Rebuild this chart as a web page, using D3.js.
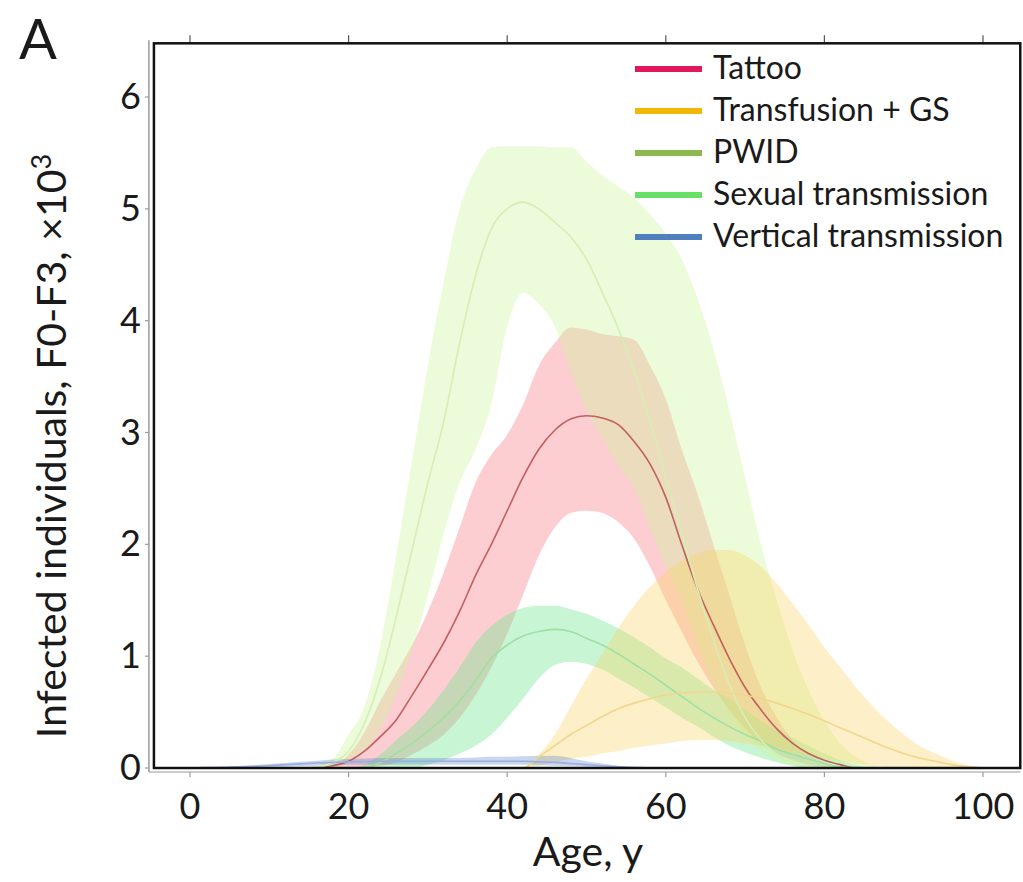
<!DOCTYPE html>
<html>
<head>
<meta charset="utf-8">
<script src="https://cdn.jsdelivr.net/npm/d3@7/dist/d3.min.js"></script>
<style>
  html, body { margin: 0; padding: 0; background: #fff; }
  svg { display: block; font-family: Lato, "Open Sans", sans-serif; }
</style>
</head>
<body>
<svg id="chart" width="1023" height="882"></svg>
<script>
// Age grid (years)
const ages = [0,2,4,6,8,10,12,14,16,18,20,22,24,26,28,30,32,34,36,38,40,42,44,46,48,50,
  52,54,56,58,60,62,64,66,68,70,72,74,76,78,80,82,84,86,88,90,92,94,96,98,100];

// Infected individuals (x10^3): median and uncertainty range per route
const pwidMid = [0,0,0,0,0,0,0,0, 0.01,0.05,0.15,0.4,0.8,1.35,1.95,2.55,3.1,3.8,4.4,4.82,5.0,5.06,5.0,4.88,4.75,4.55,4.25,3.93,3.55,3.1,2.6,2.1,1.6,1.15,0.75,0.45,0.25,0.12,0.05,0.02, 0,0,0,0,0,0,0,0,0,0,0];
const pwidHi  = [0,0,0,0,0,0,0,0, 0.02,0.08,0.3,0.55,1.1,1.9,2.75,3.6,4.35,5.0,5.35,5.55,5.56,5.56,5.56,5.55,5.55,5.42,5.3,5.2,5.1,4.95,4.78,4.55,4.2,3.75,3.2,2.6,2.0,1.5,1.05,0.7,0.42,0.22,0.1,0.03, 0,0,0,0,0,0,0];
const pwidLo  = [0,0,0,0,0,0,0,0,0,0, 0.05,0.15,0.35,0.65,1.05,1.55,2.1,2.55,2.85,3.25,3.95,4.25,4.15,3.95,3.55,3.2,2.95,2.7,2.5,2.15,1.8,1.5,1.1,0.75,0.5,0.3,0.15,0.06,0.02, 0,0,0,0,0,0,0,0,0,0,0,0];

const tattooMid = [0,0,0,0,0,0,0,0,0, 0.02,0.06,0.15,0.28,0.43,0.65,0.88,1.12,1.4,1.72,2.0,2.3,2.6,2.85,3.02,3.12,3.15,3.13,3.07,2.92,2.72,2.42,2.0,1.6,1.28,0.98,0.72,0.52,0.35,0.22,0.13,0.07,0.03, 0,0,0,0,0,0,0,0,0];
const tattooHi  = [0,0,0,0,0,0,0,0,0, 0.02,0.12,0.32,0.6,0.85,1.1,1.4,1.75,2.15,2.55,2.8,2.98,3.25,3.6,3.8,3.94,3.92,3.88,3.86,3.83,3.6,3.3,2.85,2.45,2.0,1.55,1.1,0.72,0.45,0.25,0.12,0.05,0.01, 0,0,0,0,0,0,0,0,0];
const tattooLo  = [0,0,0,0,0,0,0,0,0,0,0,0, 0.02,0.05,0.12,0.2,0.3,0.45,0.65,0.9,1.2,1.55,1.9,2.15,2.28,2.3,2.28,2.2,2.05,1.8,1.5,1.22,0.95,0.72,0.52,0.35,0.22,0.13,0.07,0.03,0.01, 0,0,0,0,0,0,0,0,0,0];

const sexualMid = [0,0,0,0,0,0,0,0,0,0,0,0, 0.05,0.13,0.22,0.33,0.45,0.6,0.78,0.98,1.1,1.18,1.22,1.24,1.22,1.16,1.1,1.02,0.93,0.84,0.74,0.64,0.54,0.45,0.37,0.3,0.24,0.17,0.12,0.08,0.04,0.01, 0,0,0,0,0,0,0,0,0];
const sexualHi  = [0,0,0,0,0,0,0,0,0,0,0, 0.03,0.12,0.25,0.37,0.52,0.7,0.9,1.12,1.27,1.37,1.43,1.45,1.45,1.42,1.38,1.32,1.25,1.17,1.08,0.98,0.9,0.8,0.7,0.62,0.52,0.42,0.34,0.27,0.2,0.13,0.07,0.03, 0,0,0,0,0,0,0,0];
const sexualLo  = [0,0,0,0,0,0,0,0,0,0,0,0,0,0,0, 0.03,0.07,0.13,0.2,0.3,0.45,0.62,0.8,0.92,0.95,0.93,0.88,0.8,0.72,0.63,0.54,0.45,0.37,0.28,0.2,0.14,0.09,0.05,0.02, 0,0,0,0,0,0,0,0,0,0,0,0];

const transMid = [0,0,0,0,0,0,0,0,0,0,0,0,0,0,0,0,0,0,0,0,0,0, 0.1,0.2,0.3,0.38,0.46,0.53,0.58,0.62,0.65,0.67,0.68,0.68,0.67,0.65,0.62,0.58,0.53,0.48,0.42,0.36,0.3,0.24,0.18,0.13,0.09,0.06,0.03,0.01,0];
const transHi  = [0,0,0,0,0,0,0,0,0,0,0,0,0,0,0,0,0,0,0,0,0,0, 0.12,0.3,0.55,0.8,1.02,1.25,1.45,1.62,1.75,1.85,1.92,1.95,1.95,1.9,1.8,1.65,1.47,1.28,1.08,0.9,0.72,0.56,0.42,0.3,0.2,0.13,0.07,0.03,0];
const transLo  = [0,0,0,0,0,0,0,0,0,0,0,0,0,0,0,0,0,0,0,0,0,0, 0.02,0.05,0.08,0.1,0.13,0.15,0.18,0.2,0.22,0.24,0.25,0.25,0.24,0.22,0.2,0.17,0.14,0.11,0.08,0.06,0.04,0.02,0.01, 0,0,0,0,0,0];

const vertMid = [0,0.003,0.006,0.01,0.015,0.02,0.03,0.037,0.045,0.05,0.055,0.058,0.06, 0.06,0.06,0.06,0.06,0.06,0.06,0.06,0.06,0.06, 0.055,0.05,0.04,0.03,0.02,0.01,0.005, 0,0,0,0,0,0,0,0,0,0,0,0,0,0,0,0,0,0,0,0,0,0];
const vertHi  = [0,0.005,0.01,0.018,0.025,0.035,0.045,0.055,0.065,0.075,0.08,0.085,0.09, 0.09,0.09,0.09,0.09,0.09,0.095,0.1,0.1,0.105, 0.11,0.11,0.09,0.06,0.04,0.02,0.01, 0,0,0,0,0,0,0,0,0,0,0,0,0,0,0,0,0,0,0,0,0,0];
const vertLo  = [0,0,0,0,0, 0.005,0.01,0.015,0.02,0.025,0.03,0.03,0.03, 0.03,0.03,0.03,0.03,0.03,0.03,0.03,0.03,0.03, 0.025,0.02,0.015,0.01,0.005,0,0, 0,0,0,0,0,0,0,0,0,0,0,0,0,0,0,0,0,0,0,0,0,0];

const routes = ["Tattoo", "Transfusion + GS", "PWID", "Sexual transmission", "Vertical transmission"];
const xTicks = [0, 20, 40, 60, 80, 100];
const yTicks = [0, 1, 2, 3, 4, 5, 6];

// drawn bottom to top; bands are translucent so overlaps mix
const series = [
  { name: "Tattoo",                mid: tattooMid, lo: tattooLo, hi: tattooHi, key: "#e2185c", band: "rgba(244,60,72,0.25)",   line: "#c25f60" },
  { name: "Sexual transmission",   mid: sexualMid, lo: sexualLo, hi: sexualHi, key: "#66e066", band: "rgba(117,230,147,0.40)", line: "#9fe0a2" },
  { name: "PWID",                  mid: pwidMid,   lo: pwidLo,   hi: pwidHi,   key: "#8cb84f", band: "rgba(205,245,155,0.38)", line: "#d6eeb4" },
  { name: "Transfusion + GS",      mid: transMid,  lo: transLo,  hi: transHi,  key: "#f2b705", band: "rgba(249,211,97,0.35)",  line: "#f2d68e" },
  { name: "Vertical transmission", mid: vertMid,   lo: vertLo,   hi: vertHi,   key: "#4f7fbf", band: "rgba(80,120,200,0.30)",  line: "#9aaedf" }
];
const keyColor = Object.fromEntries(series.map(s => [s.name, s.key]));

const svg = d3.select("#chart");
const x = d3.scaleLinear().domain([0, 100]).range([190, 983]);
const y = d3.scaleLinear().domain([0, 6]).range([768, 97]);
const plotL = x(-4.55), plotR = x(104.7), plotT = y(6.48), plotB = y(0);

// plot clip
svg.append("clipPath").attr("id", "plot")
  .append("rect").attr("x", plotL).attr("y", plotT).attr("width", plotR - plotL).attr("height", plotB - plotT);

const g = svg.append("g").attr("clip-path", "url(#plot)");

const area = d3.area()
  .x((d, i) => x(ages[i]))
  .y0(d => y(d[0]))
  .y1(d => y(d[1]))
  .curve(d3.curveMonotoneX);
const line = d3.line()
  .x((d, i) => x(ages[i]))
  .y(d => y(d))
  .curve(d3.curveMonotoneX);

// uncertainty bands
series.forEach(s => {
  g.append("path")
    .datum(ages.map((a, i) => [s.lo[i], s.hi[i]]))
    .attr("d", area)
    .attr("fill", s.band);
});
// median curves
series.forEach(s => {
  g.append("path")
    .datum(s.mid)
    .attr("d", line)
    .attr("fill", "none")
    .attr("stroke", s.line)
    .attr("stroke-width", 1.6);
});

// outer axis lines (grey) with ticks
const axisGrey = "#9a9a9a";
svg.append("line").attr("x1", plotL - 5).attr("x2", plotL - 5).attr("y1", plotT - 3).attr("y2", plotB + 4)
  .attr("stroke", axisGrey).attr("stroke-width", 1.5);
svg.append("line").attr("x1", plotL - 5).attr("x2", plotR).attr("y1", plotB + 4).attr("y2", plotB + 4)
  .attr("stroke", axisGrey).attr("stroke-width", 1.2);
svg.selectAll(".yt").data(yTicks).enter().append("line")
  .attr("x1", plotL - 9).attr("x2", plotL - 5).attr("y1", d => y(d)).attr("y2", d => y(d))
  .attr("stroke", axisGrey).attr("stroke-width", 1.2);
svg.selectAll(".xt").data(xTicks).enter().append("line")
  .attr("x1", d => x(d)).attr("x2", d => x(d)).attr("y1", plotB + 4).attr("y2", plotB + 9)
  .attr("stroke", axisGrey).attr("stroke-width", 1.2);
svg.selectAll(".xtt").data(xTicks).enter().append("line")
  .attr("x1", d => x(d)).attr("x2", d => x(d)).attr("y1", plotT - 8).attr("y2", plotT)
  .attr("stroke", "#555").attr("stroke-width", 1.2);

// frame
svg.append("rect").attr("x", plotL).attr("y", plotT).attr("width", plotR - plotL).attr("height", plotB - plotT)
  .attr("fill", "none").attr("stroke", "#111").attr("stroke-width", 2.5);

// tick labels
svg.selectAll(".yl").data(yTicks).enter().append("text")
  .attr("x", 141).attr("y", d => y(d) + 12)
  .attr("text-anchor", "end").attr("font-size", 36).attr("fill", "#1a1a1a")
  .text(d => d);
svg.selectAll(".xl").data(xTicks).enter().append("text")
  .attr("x", d => x(d)).attr("y", 819)
  .attr("text-anchor", "middle").attr("font-size", 36).attr("fill", "#1a1a1a")
  .text(d => d);

// axis titles
svg.append("text").attr("x", 588).attr("y", 866).attr("text-anchor", "middle")
  .attr("font-size", 41).attr("fill", "#1a1a1a").text("Age, y");
const yt = svg.append("text")
  .attr("transform", "translate(66,446) rotate(-90)")
  .attr("text-anchor", "middle").attr("font-size", 41)
  .attr("fill", "#1a1a1a");
yt.append("tspan").text("Infected individuals, F0-F3, ×10");
yt.append("tspan").attr("dy", -15).attr("font-size", 27).text("3");

// panel letter
svg.append("text").attr("x", 19).attr("y", 59).attr("font-size", 56).attr("fill", "#1a1a1a").text("A");

// legend
const lg = svg.append("g");
routes.forEach((r, i) => {
  const cy = 69 + i * 42;
  lg.append("line").attr("x1", 635).attr("x2", 702).attr("y1", cy).attr("y2", cy)
    .attr("stroke", keyColor[r]).attr("stroke-width", 6);
  lg.append("text").attr("x", 713).attr("y", cy + 10).attr("font-size", 32).attr("fill", "#1a1a1a").text(r);
});
</script>
</body>
</html>
